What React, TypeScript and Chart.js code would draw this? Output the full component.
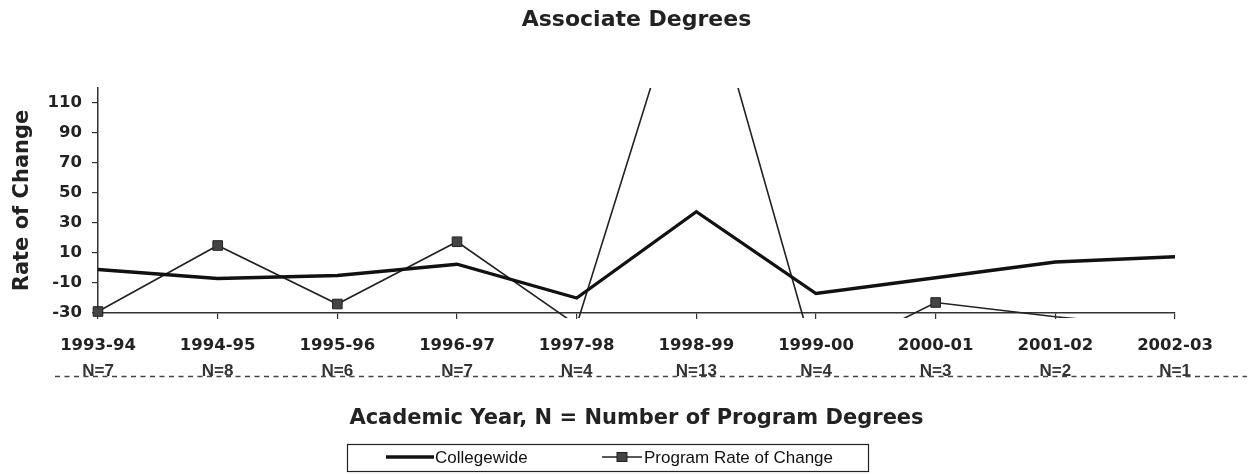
import React, { useEffect, useRef } from "react";
import { Chart, registerables } from "chart.js";

Chart.register(...registerables);

// ---- data ----
const years = ["1993-94", "1994-95", "1995-96", "1996-97", "1997-98", "1998-99", "1999-00", "2000-01", "2001-02", "2002-03"];
const nLabels = ["N=7", "N=8", "N=6", "N=7", "N=4", "N=13", "N=4", "N=3", "N=2", "N=1"];
const collegewide = [-1, -7, -5, 2.5, -20, 37.5, -17, -6.5, 4, 7.5];
const programRate = [-29, 15, -24, 17.5, -38, 218, -63, -23, -32.5, -40];
const yTicks = [-30, -10, 10, 30, 50, 70, 90, 110];
const yMin = -30;
const yMax = 120;

const titleText = "Associate Degrees";
const yTitleText = "Rate of Change";
const xTitleText = "Academic Year, N = Number of Program Degrees";
const seriesNames = ["Collegewide", "Program Rate of Change"];

const BOLD = "'DejaVu Sans', Verdana, sans-serif";
const REG = "'Liberation Sans', Arial, sans-serif";
const INK = "#222";

const nLabelPlugin = {
  id: "nLabels",
  afterDraw(chart: any) {
    const ctx = chart.ctx;
    const xs = chart.scales.x;
    ctx.save();
    ctx.font = `bold 17px ${REG}`;
    ctx.fillStyle = "#333";
    ctx.textAlign = "center";
    ctx.textBaseline = "alphabetic";
    nLabels.forEach((t, i) => ctx.fillText(t, xs.getPixelForValue(i), 368));
    ctx.setLineDash([5, 4.5]);
    ctx.lineWidth = 1.6;
    ctx.strokeStyle = "#444";
    ctx.beginPath();
    ctx.moveTo(47, 368.5);
    ctx.lineTo(chart.width, 368.5);
    ctx.stroke();
    ctx.restore();
  },
};

const boxLegendPlugin = {
  id: "boxLegend",
  afterDraw(chart: any) {
    const ctx = chart.ctx;
    const ds = chart.data.datasets;
    ctx.save();
    ctx.strokeStyle = "#222";
    ctx.lineWidth = 1.2;
    ctx.strokeRect(339.5, 436.5, 521, 27);
    const cy = 449;
    ctx.font = `17px ${REG}`;
    ctx.fillStyle = "#111";
    ctx.textBaseline = "middle";
    ctx.textAlign = "left";
    // Collegewide
    ctx.strokeStyle = ds[0].borderColor;
    ctx.lineWidth = ds[0].borderWidth;
    ctx.beginPath();
    ctx.moveTo(378, cy);
    ctx.lineTo(426, cy);
    ctx.stroke();
    ctx.fillText(ds[0].label, 427, cy + 1);
    // Program
    ctx.strokeStyle = ds[1].borderColor;
    ctx.lineWidth = ds[1].borderWidth;
    ctx.beginPath();
    ctx.moveTo(594, cy);
    ctx.lineTo(634, cy);
    ctx.stroke();
    ctx.fillStyle = ds[1].pointBackgroundColor;
    ctx.fillRect(609, cy - 4.5, 10, 9);
    ctx.strokeStyle = ds[1].pointBorderColor;
    ctx.lineWidth = 1;
    ctx.strokeRect(609, cy - 4.5, 10, 9);
    ctx.fillStyle = "#111";
    ctx.fillText(ds[1].label, 636, cy + 1);
    ctx.restore();
  },
};

export default function App() {
  const ref = useRef<HTMLCanvasElement | null>(null);

  useEffect(() => {
    if (!ref.current) return;
    const chart = new Chart(ref.current, {
      type: "line",
      data: {
        labels: years,
        datasets: [
          {
            label: seriesNames[0],
            data: collegewide,
            borderColor: "#111",
            borderWidth: 3.3,
            pointRadius: 0,
            tension: 0,
            clip: { left: 10, top: 0, right: 10, bottom: 5 } as any,
          },
          {
            label: seriesNames[1],
            data: programRate,
            borderColor: "#222",
            borderWidth: 1.6,
            pointStyle: "rect",
            // markers are only shown for points inside the axis range
            pointRadius: (c: any) => (c.raw < yMin || c.raw > yMax ? 0 : 6.8),
            pointBackgroundColor: "#444",
            pointBorderColor: "#222",
            pointBorderWidth: 1,
            tension: 0,
            clip: { left: 10, top: 0, right: 10, bottom: 5 } as any,
          },
        ],
      },
      options: {
        responsive: false,
        animation: false,
        devicePixelRatio: 1,
        layout: { padding: { left: 0, right: 72, top: 0, bottom: 39 } },
        plugins: {
          legend: { display: false },
          tooltip: { enabled: false },
          title: {
            display: true,
            text: titleText,
            fullSize: false,
            color: INK,
            font: { family: BOLD, size: 22, weight: "bold", lineHeight: 1 },
            padding: { top: 1, bottom: 57 },
          },
        },
        scales: {
          x: {
            type: "category",
            offset: false,
            grid: { display: true, drawOnChartArea: false, drawTicks: true, tickLength: 6, color: "#333", lineWidth: 1.2 },
            border: { display: true, color: "#333", width: 1.5 },
            ticks: {
              color: INK,
              font: { family: BOLD, size: 16.5, weight: "bold" },
              padding: 17,
              maxRotation: 0,
              autoSkip: false,
            },
            title: {
              display: true,
              text: xTitleText,
              color: INK,
              font: { family: BOLD, size: 21, weight: "bold" },
              padding: { top: 4, bottom: 4 },
            },
            afterFit(scale: any) {
              scale.height = 122;
            },
          },
          y: {
            type: "linear",
            min: yMin,
            max: yMax,
            grid: { display: true, drawOnChartArea: false, drawTicks: true, tickLength: 6, color: "#333", lineWidth: 1.2 },
            border: { display: true, color: "#333", width: 1.5 },
            ticks: {
              color: INK,
              font: { family: BOLD, size: 16.5, weight: "bold" },
              padding: 10,
            },
            afterBuildTicks(scale: any) {
              scale.ticks = yTicks.map((v) => ({ value: v }));
            },
            title: {
              display: true,
              text: yTitleText,
              color: INK,
              font: { family: BOLD, size: 21, weight: "bold" },
              padding: { top: 2, bottom: 0 },
            },
            afterFit(scale: any) {
              scale.width = 90;
            },
          },
        },
      },
      plugins: [nLabelPlugin, boxLegendPlugin],
    });
    return () => chart.destroy();
  }, []);

  return (
    <div style={{ width: 1239, height: 466 }}>
      <canvas ref={ref} width={1239} height={466} style={{ display: "block" }} />
    </div>
  );
}
